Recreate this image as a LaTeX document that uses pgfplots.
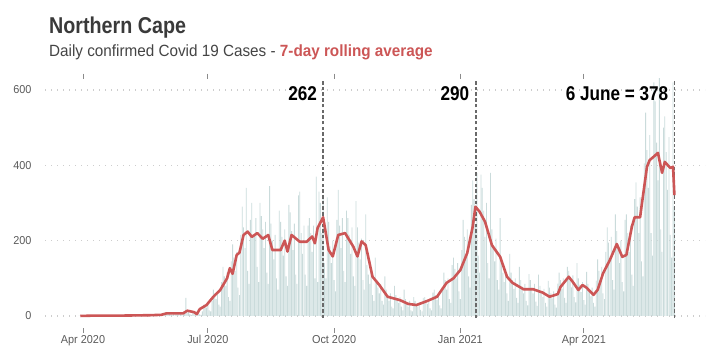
\documentclass[border=0pt]{standalone}
\usepackage{fontspec}
\setmainfont{Liberation Sans}[FakeStretch=0.86]
\newfontfamily\subfont{Liberation Sans}[FakeStretch=0.94]
\newfontfamily\tickfont{Liberation Sans}[FakeStretch=0.95]
\usepackage{pgfplots}
\pgfplotsset{compat=1.18}
\usepackage{pgfplotstable}
\definecolor{cred}{RGB}{204,86,86}
\definecolor{cbar}{RGB}{202,219,219}
\definecolor{ctitle}{RGB}{58,58,58}
\definecolor{ctext}{RGB}{68,68,68}
\definecolor{ctick}{RGB}{90,90,90}
\definecolor{cgrid}{RGB}{205,205,205}
\definecolor{cdash}{RGB}{105,105,105}

% daily confirmed cases, first value = day 28 (days since 1 Mar 2020)
\pgfplotstableread[row sep=\\,header=false]{
0\\1\\0\\0\\2\\0\\1\\ 0\\1\\0\\1\\0\\0\\2\\ 1\\0\\2\\1\\0\\1\\2\\ 1\\2\\0\\1\\1\\0\\2\\
2\\1\\0\\1\\0\\1\\2\\ 1\\0\\2\\1\\1\\0\\2\\ 1\\2\\1\\0\\1\\0\\2\\ 2\\1\\2\\1\\1\\1\\3\\
3\\2\\1\\2\\3\\1\\2\\ 8\\6\\5\\7\\4\\3\\9\\ 9\\7\\6\\8\\5\\4\\10\\ 6\\48\\8\\10\\5\\3\\12\\
9\\7\\5\\10\\4\\3\\12\\ 30\\28\\22\\35\\15\\12\\40\\ 70\\60\\45\\65\\30\\25\\90\\
130\\105\\80\\115\\50\\40\\145\\ 190\\155\\120\\170\\75\\55\\215\\ 290\\235\\180\\340\\120\\85\\255\\
300\\210\\215\\260\\130\\90\\300\\ 265\\230\\180\\250\\115\\85\\345\\ 245\\200\\150\\215\\100\\70\\280\\
250\\210\\160\\230\\105\\80\\295\\ 275\\225\\175\\245\\110\\85\\320\\ 330\\220\\165\\240\\110\\80\\240\\
260\\220\\170\\240\\100\\370\\90\\ 330\\300\\220\\310\\140\\100\\315\\ 250\\185\\140\\200\\95\\65\\255\\
335\\240\\180\\260\\120\\90\\280\\ 260\\215\\165\\235\\105\\80\\305\\ 235\\195\\150\\205\\95\\70\\270\\
135\\110\\85\\120\\55\\40\\155\\ 95\\75\\60\\85\\40\\30\\105\\ 70\\55\\40\\60\\25\\20\\80\\
55\\45\\35\\50\\25\\15\\70\\ 45\\35\\25\\40\\15\\12\\50\\ 40\\32\\25\\36\\16\\12\\48\\
50\\42\\32\\45\\20\\15\\62\\ 70\\55\\42\\60\\28\\20\\75\\ 115\\95\\70\\100\\45\\35\\135\\
155\\125\\100\\140\\65\\45\\175\\ 255\\210\\160\\230\\105\\75\\295\\ 360\\310\\240\\380\\160\\115\\375\\
340\\280\\210\\300\\140\\100\\380\\ 230\\185\\145\\205\\95\\70\\260\\ 140\\115\\90\\125\\60\\40\\165\\
115\\95\\72\\100\\48\\35\\130\\ 95\\78\\60\\85\\40\\28\\111\\ 95\\75\\60\\85\\38\\27\\110\\
80\\65\\50\\72\\35\\25\\93\\ 75\\60\\47\\65\\30\\22\\86\\ 115\\95\\72\\100\\48\\35\\130\\
120\\100\\76\\108\\50\\36\\140\\ 100\\83\\63\\90\\42\\30\\117\\ 85\\68\\52\\75\\35\\25\\94\\
150\\120\\95\\130\\60\\45\\170\\ 235\\195\\150\\210\\95\\70\\270\\ 225\\180\\140\\200\\90\\65\\255\\
270\\220\\170\\240\\110\\80\\310\\ 355\\290\\220\\315\\145\\105\\405\\ 540\\440\\340\\480\\220\\160\\620\\
570\\460\\360\\650\\230\\170\\500\\ 530\\435\\335\\475\\215\\155\\620\\ 290\\
}\daily

% 7-day rolling average
\pgfplotstableread{
d v
29 0
40 1
60 1
80 2
88 3
92 7
104 7
107 14
112 10
114 5
116 18
121 29
126 51
131 69
136 100
138 127
140 112
143 162
145 168
148 215
151 224
154 210
158 220
162 205
166 215
169 175
175 175
178 200
180 171
183 215
189 197
194 197
198 211
200 193
202 234
206 262
210 175
213 158
217 215
222 220
228 184
231 158
234 198
237 188
242 104
247 82
253 51
262 42
268 32
274 29
282 40
289 51
296 88
301 100
306 122
311 167
315 237
317 290
320 277
324 250
329 188
335 157
340 104
344 88
352 71
359 71
366 62
371 51
377 58
379 77
385 104
388 90
392 69
395 82
398 75
403 56
406 69
410 113
415 149
420 191
424 157
427 162
431 237
433 262
437 262
438 290
442 396
444 414
446 420
450 433
453 380
455 409
459 393
461 396
462 321
}\avg

\begin{document}
\begin{tikzpicture}[x=1bp,y=1bp]
\path[use as bounding box] (0,0) rectangle (720,360);
\node[anchor=base west,inner sep=0,text=ctitle,font=\fontsize{23}{27}\selectfont\bfseries] at (49,327) {Northern Cape};
\node[anchor=base west,inner sep=0,text=ctext,font=\subfont\fontsize{16.3}{19}\selectfont] at (49,303.5) {Daily confirmed Covid 19 Cases - \textcolor{cred}{\bfseries 7-day rolling average}};
\begin{axis}[
  at={(45bp,32bp)}, anchor=south west,
  scale only axis, width=660bp, height=249.3bp,
  xmin=3.3, xmax=484.3, ymin=-32, ymax=630,
  axis line style={draw=none},
  xtick={31,122,214,306,396},
  xticklabels={Apr 2020,Jul 2020,Oct 2020,Jan 2021,Apr 2021},
  ytick={0,200,400,600},
  tick align=outside, major tick length=5bp,
  xtick style={draw=ctick!70,line width=0.8bp},
  ytick style={draw=none},
  ymajorgrids, grid style={draw=cgrid,line width=1.3bp,dash pattern=on 1.3bp off 4.7bp},
  ticklabel style={font=\tickfont\fontsize{11.5}{13}\selectfont,text=ctick},
  /pgf/number format/assume math mode=true,
  yticklabel style={xshift=-5bp},
  xticklabel style={yshift=1bp},
  clip=true,
]
\addplot[ybar,bar width=0.62,fill=cbar,draw=none] table[x expr=\coordindex+28,y index=0] {\daily};
\addplot[cdash,line width=1.6bp,dash pattern=on 3.5bp off 2.2bp] coordinates {(206,-6) (206,628)};
\addplot[cdash,line width=1.6bp,dash pattern=on 3.5bp off 2.2bp] coordinates {(317.4,-6) (317.4,628)};
\addplot[cdash,line width=1.6bp,dash pattern=on 3.5bp off 2.2bp] coordinates {(462.2,-6) (462.2,628)};
\addplot[cred,line width=2.6bp,line join=round] table[x=d,y=v] {\avg};
\node[anchor=base east,inner sep=0,font=\fontsize{20}{24}\selectfont\bfseries] at (axis cs:201.6,571) {262};
\node[anchor=base east,inner sep=0,font=\fontsize{20}{24}\selectfont\bfseries] at (axis cs:312.6,571) {290};
\node[anchor=base east,inner sep=0,font=\fontsize{20}{24}\selectfont\bfseries] at (axis cs:457.6,571) {6 June = 378};
\end{axis}
\end{tikzpicture}
\end{document}
